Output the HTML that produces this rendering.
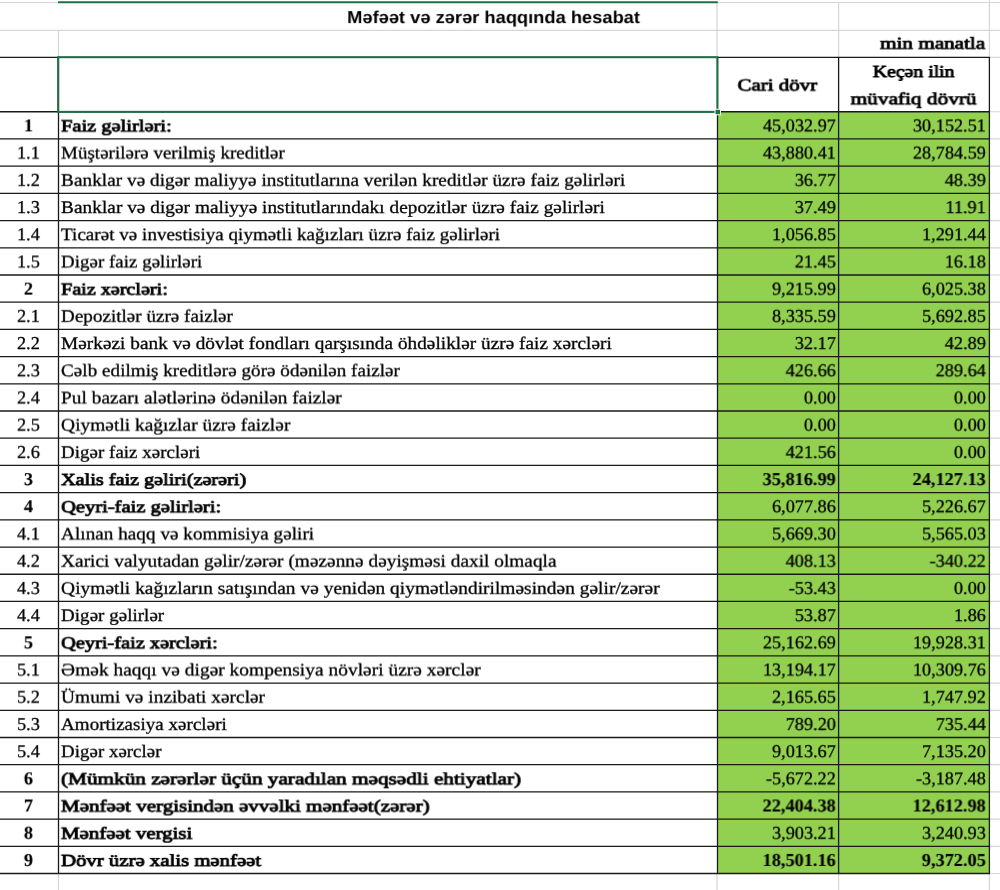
<!DOCTYPE html>
<html lang="az">
<head>
<meta charset="utf-8">
<title>Məfəət və zərər haqqında hesabat</title>
<style>
html,body{margin:0;padding:0;background:#fff}
#sheet{position:relative;width:1000px;height:890px;overflow:hidden;background:#fff;color:#000}
#sheet svg{position:absolute;left:0;top:0}
#sheet span{position:absolute;white-space:nowrap;text-rendering:geometricPrecision;line-height:24px;color:#000;transform-origin:0 0}
.l{font-family:"Liberation Serif", serif;font-size:17.6px;font-weight:normal;-webkit-text-stroke:0.3px #000}
.lb{font-family:"Liberation Serif", serif;font-size:16.8px;font-weight:normal;-webkit-text-stroke:0.8px #000}
.n{font-family:"Liberation Serif", serif;font-size:18.1px;font-weight:normal;-webkit-text-stroke:0.3px #000}
.nb{font-family:"Liberation Serif", serif;font-size:18.2px;font-weight:bold;-webkit-text-stroke:0.1px #000}
.ti{font-family:"Liberation Sans", sans-serif;font-size:17.3px;font-weight:bold;-webkit-text-stroke:0.0px #000}
</style>
</head>
<body>
<div id="sheet">
<svg width="1000" height="890" viewBox="0 0 1000 890">
<rect x="717.5" y="111.75" width="271.9" height="761.768" fill="#92d050"/>
<path d="M0 2.5H1000 M0 30.3H1000 M989.4 57.4H1000 M989.4 111.75H1000 M989.4 138.96H1000 M989.4 166.16H1000 M989.4 193.37H1000 M989.4 220.57H1000 M989.4 247.78H1000 M989.4 274.99H1000 M989.4 302.19H1000 M989.4 329.40H1000 M989.4 356.60H1000 M989.4 383.81H1000 M989.4 411.02H1000 M989.4 438.22H1000 M989.4 465.43H1000 M989.4 492.63H1000 M989.4 519.84H1000 M989.4 547.05H1000 M989.4 574.25H1000 M989.4 601.46H1000 M989.4 628.66H1000 M989.4 655.87H1000 M989.4 683.08H1000 M989.4 710.28H1000 M989.4 737.49H1000 M989.4 764.69H1000 M989.4 791.90H1000 M989.4 819.11H1000 M989.4 846.31H1000 M989.4 873.52H1000 M58.5 30V57.4 M717.0 2V57.4 M838.6 2V57.4 M989.4 0V57.4 M58.5 873.518V890 M717.0 873.518V890 M838.6 873.518V890 M989.4 873.518V890" stroke="#d6d6d6" stroke-width="1.2" fill="none"/>
<path d="M0 57.4H989.4 M0 111.75H990.0 M0 138.96H990.0 M0 166.16H990.0 M0 193.37H990.0 M0 220.57H990.0 M0 247.78H990.0 M0 274.99H990.0 M0 302.19H990.0 M0 329.40H990.0 M0 356.60H990.0 M0 383.81H990.0 M0 411.02H990.0 M0 438.22H990.0 M0 465.43H990.0 M0 492.63H990.0 M0 519.84H990.0 M0 547.05H990.0 M0 574.25H990.0 M0 601.46H990.0 M0 628.66H990.0 M0 655.87H990.0 M0 683.08H990.0 M0 710.28H990.0 M0 737.49H990.0 M0 764.69H990.0 M0 791.90H990.0 M0 819.11H990.0 M0 846.31H990.0 M0 873.52H990.0 M58.5 56.8V874.118 M717.5 56.8V874.118 M838.6 56.8V874.118 M989.4 56.8V874.118" stroke="#1a1a1a" stroke-width="1.3" fill="none"/>
<path d="M58.0 2.2H717.8" stroke="#1e7145" stroke-width="2" fill="none"/>
<rect x="58.1" y="57.199999999999996" width="659.3" height="54.65" stroke="#1e7145" stroke-width="2" fill="none"/>
<rect x="715.0" y="109.25" width="5.5" height="5.5" fill="#1e7145" stroke="#fff" stroke-width="1"/>
</svg>
<span class="ti" style="left:347px;top:5px;transform:translate(0.14px,0.10px) scaleX(1.0587) rotateX(0.01deg)">Məfəət və zərər haqqında hesabat</span>
<span class="lb" style="left:880px;top:31px;transform:translate(0.04px,0.70px) scaleX(1.2602) rotateX(0.01deg)">min manatla</span>
<span class="lb" style="left:737px;top:73px;transform:translate(0.50px,0.50px) scaleX(1.2500) rotateX(0.01deg)">Cari dövr</span>
<span class="lb" style="left:872px;top:60px;transform:translate(0.70px,0.00px) scaleX(1.1786) rotateX(0.01deg)">Keçən ilin</span>
<span class="lb" style="left:850px;top:87px;transform:translate(0.64px,0.20px) scaleX(1.2693) rotateX(0.01deg)">müvafiq dövrü</span>
<span class="nb" style="left:23px;top:113px;transform:translate(0.82px,0.35px) scaleX(1.0069) rotateX(0.01deg)">1</span>
<span class="lb" style="left:61px;top:114px;transform:translate(0.00px,0.35px) scaleX(1.2189) rotateX(0.01deg)">Faiz gəlirləri:</span>
<span class="n" style="left:762px;top:113px;transform:translate(0.92px,0.35px) scaleX(1.0069) rotateX(0.01deg)">45,032.97</span>
<span class="n" style="left:912px;top:113px;transform:translate(0.92px,0.35px) scaleX(1.0069) rotateX(0.01deg)">30,152.51</span>
<span class="n" style="left:17px;top:140px;transform:translate(0.01px,0.56px) scaleX(1.0069) rotateX(0.01deg)">1.1</span>
<span class="l" style="left:61px;top:140px;transform:translate(0.00px,0.56px) scaleX(1.0797) rotateX(0.01deg)">Müştərilərə verilmiş kreditlər</span>
<span class="n" style="left:762px;top:140px;transform:translate(0.92px,0.56px) scaleX(1.0069) rotateX(0.01deg)">43,880.41</span>
<span class="n" style="left:912px;top:140px;transform:translate(0.92px,0.56px) scaleX(1.0069) rotateX(0.01deg)">28,784.59</span>
<span class="n" style="left:17px;top:167px;transform:translate(0.01px,0.76px) scaleX(1.0069) rotateX(0.01deg)">1.2</span>
<span class="l" style="left:61px;top:167px;transform:translate(0.00px,0.76px) scaleX(1.0968) rotateX(0.01deg)">Banklar və digər maliyyə institutlarına verilən kreditlər üzrə faiz gəlirləri</span>
<span class="n" style="left:794px;top:167px;transform:translate(0.80px,0.76px) scaleX(1.0069) rotateX(0.01deg)">36.77</span>
<span class="n" style="left:944px;top:167px;transform:translate(0.80px,0.76px) scaleX(1.0069) rotateX(0.01deg)">48.39</span>
<span class="n" style="left:17px;top:194px;transform:translate(0.01px,0.97px) scaleX(1.0069) rotateX(0.01deg)">1.3</span>
<span class="l" style="left:61px;top:194px;transform:translate(0.00px,0.97px) scaleX(1.0999) rotateX(0.01deg)">Banklar və digər maliyyə institutlarındakı depozitlər üzrə faiz gəlirləri</span>
<span class="n" style="left:794px;top:194px;transform:translate(0.80px,0.97px) scaleX(1.0069) rotateX(0.01deg)">37.49</span>
<span class="n" style="left:945px;top:194px;transform:translate(0.48px,0.97px) scaleX(1.0069) rotateX(0.01deg)">11.91</span>
<span class="n" style="left:17px;top:222px;transform:translate(0.01px,0.17px) scaleX(1.0069) rotateX(0.01deg)">1.4</span>
<span class="l" style="left:61px;top:222px;transform:translate(0.00px,0.17px) scaleX(1.0858) rotateX(0.01deg)">Ticarət və investisiya qiymətli kağızları üzrə faiz gəlirləri</span>
<span class="n" style="left:772px;top:222px;transform:translate(0.03px,0.17px) scaleX(1.0069) rotateX(0.01deg)">1,056.85</span>
<span class="n" style="left:922px;top:222px;transform:translate(0.03px,0.17px) scaleX(1.0069) rotateX(0.01deg)">1,291.44</span>
<span class="n" style="left:17px;top:249px;transform:translate(0.01px,0.38px) scaleX(1.0069) rotateX(0.01deg)">1.5</span>
<span class="l" style="left:61px;top:249px;transform:translate(0.00px,0.38px) scaleX(1.0786) rotateX(0.01deg)">Digər faiz gəlirləri</span>
<span class="n" style="left:794px;top:249px;transform:translate(0.80px,0.38px) scaleX(1.0069) rotateX(0.01deg)">21.45</span>
<span class="n" style="left:944px;top:249px;transform:translate(0.80px,0.38px) scaleX(1.0069) rotateX(0.01deg)">16.18</span>
<span class="nb" style="left:23px;top:276px;transform:translate(0.82px,0.59px) scaleX(1.0069) rotateX(0.01deg)">2</span>
<span class="lb" style="left:61px;top:277px;transform:translate(0.00px,0.59px) scaleX(1.2000) rotateX(0.01deg)">Faiz xərcləri:</span>
<span class="n" style="left:772px;top:276px;transform:translate(0.03px,0.59px) scaleX(1.0069) rotateX(0.01deg)">9,215.99</span>
<span class="n" style="left:922px;top:276px;transform:translate(0.03px,0.59px) scaleX(1.0069) rotateX(0.01deg)">6,025.38</span>
<span class="n" style="left:17px;top:303px;transform:translate(0.01px,0.79px) scaleX(1.0069) rotateX(0.01deg)">2.1</span>
<span class="l" style="left:61px;top:303px;transform:translate(0.00px,0.79px) scaleX(1.0855) rotateX(0.01deg)">Depozitlər üzrə faizlər</span>
<span class="n" style="left:772px;top:303px;transform:translate(0.03px,0.79px) scaleX(1.0069) rotateX(0.01deg)">8,335.59</span>
<span class="n" style="left:922px;top:303px;transform:translate(0.03px,0.79px) scaleX(1.0069) rotateX(0.01deg)">5,692.85</span>
<span class="n" style="left:17px;top:330px;transform:translate(0.01px,1.00px) scaleX(1.0069) rotateX(0.01deg)">2.2</span>
<span class="l" style="left:61px;top:330px;transform:translate(0.00px,1.00px) scaleX(1.0977) rotateX(0.01deg)">Mərkəzi bank və dövlət fondları qarşısında öhdəliklər üzrə faiz xərcləri</span>
<span class="n" style="left:794px;top:330px;transform:translate(0.80px,1.00px) scaleX(1.0069) rotateX(0.01deg)">32.17</span>
<span class="n" style="left:944px;top:330px;transform:translate(0.80px,1.00px) scaleX(1.0069) rotateX(0.01deg)">42.89</span>
<span class="n" style="left:17px;top:358px;transform:translate(0.01px,0.20px) scaleX(1.0069) rotateX(0.01deg)">2.3</span>
<span class="l" style="left:61px;top:358px;transform:translate(0.00px,0.20px) scaleX(1.0891) rotateX(0.01deg)">Cəlb edilmiş kreditlərə görə ödənilən faizlər</span>
<span class="n" style="left:785px;top:358px;transform:translate(0.69px,0.20px) scaleX(1.0069) rotateX(0.01deg)">426.66</span>
<span class="n" style="left:935px;top:358px;transform:translate(0.69px,0.20px) scaleX(1.0069) rotateX(0.01deg)">289.64</span>
<span class="n" style="left:17px;top:385px;transform:translate(0.01px,0.41px) scaleX(1.0069) rotateX(0.01deg)">2.4</span>
<span class="l" style="left:61px;top:385px;transform:translate(0.00px,0.41px) scaleX(1.1008) rotateX(0.01deg)">Pul bazarı alətlərinə ödənilən faizlər</span>
<span class="n" style="left:803px;top:385px;transform:translate(0.91px,0.41px) scaleX(1.0069) rotateX(0.01deg)">0.00</span>
<span class="n" style="left:953px;top:385px;transform:translate(0.91px,0.41px) scaleX(1.0069) rotateX(0.01deg)">0.00</span>
<span class="n" style="left:17px;top:412px;transform:translate(0.01px,0.62px) scaleX(1.0069) rotateX(0.01deg)">2.5</span>
<span class="l" style="left:61px;top:412px;transform:translate(0.00px,0.62px) scaleX(1.1043) rotateX(0.01deg)">Qiymətli kağızlar üzrə faizlər</span>
<span class="n" style="left:803px;top:412px;transform:translate(0.91px,0.62px) scaleX(1.0069) rotateX(0.01deg)">0.00</span>
<span class="n" style="left:953px;top:412px;transform:translate(0.91px,0.62px) scaleX(1.0069) rotateX(0.01deg)">0.00</span>
<span class="n" style="left:17px;top:439px;transform:translate(0.01px,0.82px) scaleX(1.0069) rotateX(0.01deg)">2.6</span>
<span class="l" style="left:61px;top:439px;transform:translate(0.00px,0.82px) scaleX(1.0798) rotateX(0.01deg)">Digər faiz xərcləri</span>
<span class="n" style="left:785px;top:439px;transform:translate(0.69px,0.82px) scaleX(1.0069) rotateX(0.01deg)">421.56</span>
<span class="n" style="left:953px;top:439px;transform:translate(0.91px,0.82px) scaleX(1.0069) rotateX(0.01deg)">0.00</span>
<span class="nb" style="left:23px;top:467px;transform:translate(0.82px,0.03px) scaleX(1.0069) rotateX(0.01deg)">3</span>
<span class="lb" style="left:61px;top:468px;transform:translate(0.00px,0.03px) scaleX(1.2045) rotateX(0.01deg)">Xalis faiz gəliri(zərəri)</span>
<span class="nb" style="left:762px;top:467px;transform:translate(0.54px,0.03px) scaleX(1.0069) rotateX(0.01deg)">35,816.99</span>
<span class="nb" style="left:912px;top:467px;transform:translate(0.54px,0.03px) scaleX(1.0069) rotateX(0.01deg)">24,127.13</span>
<span class="nb" style="left:23px;top:494px;transform:translate(0.82px,0.23px) scaleX(1.0069) rotateX(0.01deg)">4</span>
<span class="lb" style="left:61px;top:495px;transform:translate(0.00px,0.23px) scaleX(1.2231) rotateX(0.01deg)">Qeyri-faiz gəlirləri:</span>
<span class="n" style="left:772px;top:494px;transform:translate(0.03px,0.23px) scaleX(1.0069) rotateX(0.01deg)">6,077.86</span>
<span class="n" style="left:922px;top:494px;transform:translate(0.03px,0.23px) scaleX(1.0069) rotateX(0.01deg)">5,226.67</span>
<span class="n" style="left:17px;top:521px;transform:translate(0.01px,0.44px) scaleX(1.0069) rotateX(0.01deg)">4.1</span>
<span class="l" style="left:61px;top:521px;transform:translate(0.00px,0.44px) scaleX(1.0928) rotateX(0.01deg)">Alınan haqq və kommisiya gəliri</span>
<span class="n" style="left:772px;top:521px;transform:translate(0.03px,0.44px) scaleX(1.0069) rotateX(0.01deg)">5,669.30</span>
<span class="n" style="left:922px;top:521px;transform:translate(0.03px,0.44px) scaleX(1.0069) rotateX(0.01deg)">5,565.03</span>
<span class="n" style="left:17px;top:548px;transform:translate(0.01px,0.65px) scaleX(1.0069) rotateX(0.01deg)">4.2</span>
<span class="l" style="left:61px;top:548px;transform:translate(0.00px,0.65px) scaleX(1.1001) rotateX(0.01deg)">Xarici valyutadan gəlir/zərər (məzənnə dəyişməsi daxil olmaqla</span>
<span class="n" style="left:785px;top:548px;transform:translate(0.69px,0.65px) scaleX(1.0069) rotateX(0.01deg)">408.13</span>
<span class="n" style="left:929px;top:548px;transform:translate(0.62px,0.65px) scaleX(1.0069) rotateX(0.01deg)">-340.22</span>
<span class="n" style="left:17px;top:575px;transform:translate(0.01px,0.85px) scaleX(1.0069) rotateX(0.01deg)">4.3</span>
<span class="l" style="left:61px;top:575px;transform:translate(0.00px,0.85px) scaleX(1.1057) rotateX(0.01deg)">Qiymətli kağızların satışından və yenidən qiymətləndirilməsindən gəlir/zərər</span>
<span class="n" style="left:788px;top:575px;transform:translate(0.73px,0.85px) scaleX(1.0069) rotateX(0.01deg)">-53.43</span>
<span class="n" style="left:953px;top:575px;transform:translate(0.91px,0.85px) scaleX(1.0069) rotateX(0.01deg)">0.00</span>
<span class="n" style="left:17px;top:603px;transform:translate(0.01px,0.06px) scaleX(1.0069) rotateX(0.01deg)">4.4</span>
<span class="l" style="left:61px;top:603px;transform:translate(0.00px,0.06px) scaleX(1.0823) rotateX(0.01deg)">Digər gəlirlər</span>
<span class="n" style="left:794px;top:603px;transform:translate(0.80px,0.06px) scaleX(1.0069) rotateX(0.01deg)">53.87</span>
<span class="n" style="left:953px;top:603px;transform:translate(0.91px,0.06px) scaleX(1.0069) rotateX(0.01deg)">1.86</span>
<span class="nb" style="left:23px;top:630px;transform:translate(0.82px,0.26px) scaleX(1.0069) rotateX(0.01deg)">5</span>
<span class="lb" style="left:61px;top:631px;transform:translate(0.00px,0.26px) scaleX(1.2146) rotateX(0.01deg)">Qeyri-faiz xərcləri:</span>
<span class="n" style="left:762px;top:630px;transform:translate(0.92px,0.26px) scaleX(1.0069) rotateX(0.01deg)">25,162.69</span>
<span class="n" style="left:912px;top:630px;transform:translate(0.92px,0.26px) scaleX(1.0069) rotateX(0.01deg)">19,928.31</span>
<span class="n" style="left:17px;top:657px;transform:translate(0.01px,0.47px) scaleX(1.0069) rotateX(0.01deg)">5.1</span>
<span class="l" style="left:61px;top:657px;transform:translate(0.00px,0.47px) scaleX(1.1055) rotateX(0.01deg)">Əmək haqqı və digər kompensiya növləri üzrə xərclər</span>
<span class="n" style="left:762px;top:657px;transform:translate(0.92px,0.47px) scaleX(1.0069) rotateX(0.01deg)">13,194.17</span>
<span class="n" style="left:912px;top:657px;transform:translate(0.92px,0.47px) scaleX(1.0069) rotateX(0.01deg)">10,309.76</span>
<span class="n" style="left:17px;top:684px;transform:translate(0.01px,0.68px) scaleX(1.0069) rotateX(0.01deg)">5.2</span>
<span class="l" style="left:61px;top:684px;transform:translate(0.00px,0.68px) scaleX(1.1016) rotateX(0.01deg)">Ümumi və inzibati xərclər</span>
<span class="n" style="left:772px;top:684px;transform:translate(0.03px,0.68px) scaleX(1.0069) rotateX(0.01deg)">2,165.65</span>
<span class="n" style="left:922px;top:684px;transform:translate(0.03px,0.68px) scaleX(1.0069) rotateX(0.01deg)">1,747.92</span>
<span class="n" style="left:17px;top:711px;transform:translate(0.01px,0.88px) scaleX(1.0069) rotateX(0.01deg)">5.3</span>
<span class="l" style="left:61px;top:711px;transform:translate(0.00px,0.88px) scaleX(1.0837) rotateX(0.01deg)">Amortizasiya xərcləri</span>
<span class="n" style="left:785px;top:711px;transform:translate(0.69px,0.88px) scaleX(1.0069) rotateX(0.01deg)">789.20</span>
<span class="n" style="left:935px;top:711px;transform:translate(0.69px,0.88px) scaleX(1.0069) rotateX(0.01deg)">735.44</span>
<span class="n" style="left:17px;top:739px;transform:translate(0.01px,0.09px) scaleX(1.0069) rotateX(0.01deg)">5.4</span>
<span class="l" style="left:61px;top:739px;transform:translate(0.00px,0.09px) scaleX(1.0766) rotateX(0.01deg)">Digər xərclər</span>
<span class="n" style="left:772px;top:739px;transform:translate(0.03px,0.09px) scaleX(1.0069) rotateX(0.01deg)">9,013.67</span>
<span class="n" style="left:922px;top:739px;transform:translate(0.03px,0.09px) scaleX(1.0069) rotateX(0.01deg)">7,135.20</span>
<span class="nb" style="left:23px;top:766px;transform:translate(0.82px,0.29px) scaleX(1.0069) rotateX(0.01deg)">6</span>
<span class="lb" style="left:61px;top:767px;transform:translate(0.00px,0.29px) scaleX(1.2643) rotateX(0.01deg)">(Mümkün zərərlər üçün yaradılan məqsədli ehtiyatlar)</span>
<span class="n" style="left:765px;top:766px;transform:translate(0.96px,0.29px) scaleX(1.0069) rotateX(0.01deg)">-5,672.22</span>
<span class="n" style="left:915px;top:766px;transform:translate(0.96px,0.29px) scaleX(1.0069) rotateX(0.01deg)">-3,187.48</span>
<span class="nb" style="left:23px;top:793px;transform:translate(0.82px,0.50px) scaleX(1.0069) rotateX(0.01deg)">7</span>
<span class="lb" style="left:61px;top:794px;transform:translate(0.00px,0.50px) scaleX(1.2512) rotateX(0.01deg)">Mənfəət vergisindən əvvəlki mənfəət(zərər)</span>
<span class="nb" style="left:762px;top:793px;transform:translate(0.54px,0.50px) scaleX(1.0069) rotateX(0.01deg)">22,404.38</span>
<span class="nb" style="left:912px;top:793px;transform:translate(0.54px,0.50px) scaleX(1.0069) rotateX(0.01deg)">12,612.98</span>
<span class="nb" style="left:23px;top:820px;transform:translate(0.82px,0.71px) scaleX(1.0069) rotateX(0.01deg)">8</span>
<span class="lb" style="left:61px;top:821px;transform:translate(0.00px,0.71px) scaleX(1.2441) rotateX(0.01deg)">Mənfəət vergisi</span>
<span class="n" style="left:772px;top:820px;transform:translate(0.03px,0.71px) scaleX(1.0069) rotateX(0.01deg)">3,903.21</span>
<span class="n" style="left:922px;top:820px;transform:translate(0.03px,0.71px) scaleX(1.0069) rotateX(0.01deg)">3,240.93</span>
<span class="nb" style="left:23px;top:847px;transform:translate(0.82px,0.91px) scaleX(1.0069) rotateX(0.01deg)">9</span>
<span class="lb" style="left:61px;top:848px;transform:translate(0.00px,0.91px) scaleX(1.2377) rotateX(0.01deg)">Dövr üzrə xalis mənfəət</span>
<span class="nb" style="left:762px;top:847px;transform:translate(0.54px,0.91px) scaleX(1.0069) rotateX(0.01deg)">18,501.16</span>
<span class="nb" style="left:921px;top:847px;transform:translate(0.70px,0.91px) scaleX(1.0069) rotateX(0.01deg)">9,372.05</span>
</div>
</body>
</html>
